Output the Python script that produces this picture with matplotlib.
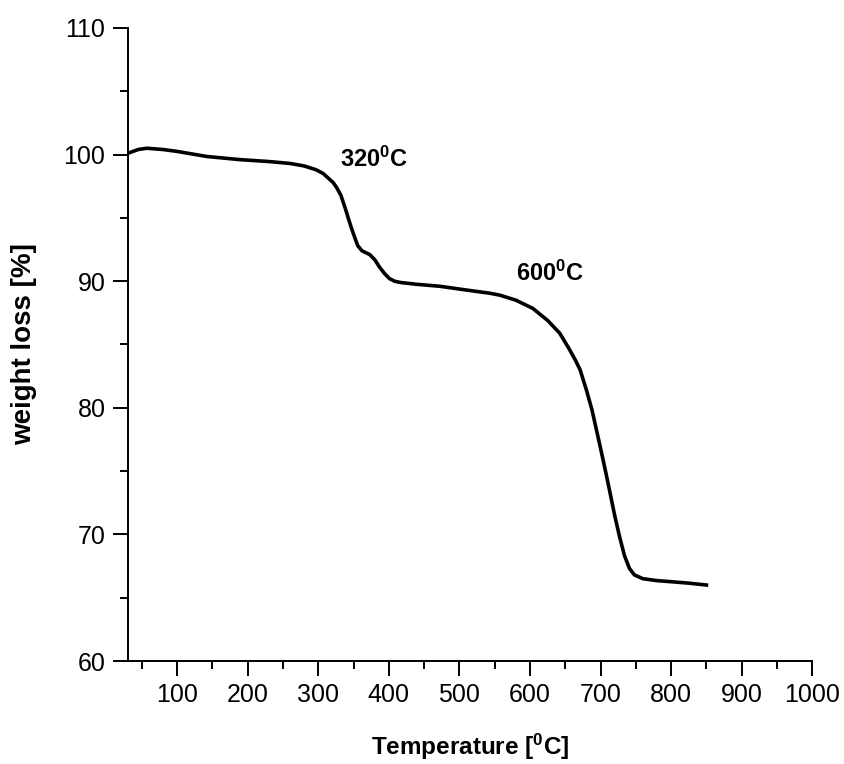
import matplotlib
matplotlib.use('Agg')
import matplotlib.pyplot as plt
from matplotlib.ticker import MultipleLocator

# TGA curve
temp = [30, 45, 57, 80, 100, 142, 189, 230, 260, 280, 297, 307, 315, 321, 326, 332, 338, 343, 347, 352,
        356, 362, 373, 380, 387, 394, 401, 408, 416, 440, 472, 510, 543, 557, 580, 604, 625, 642, 655,
        664, 671, 680, 688, 694, 700, 707, 713, 720, 727, 734, 741, 748, 760, 780, 803, 825, 850]
weight = [100.1, 100.4, 100.5, 100.4, 100.25, 99.85, 99.6, 99.45, 99.3, 99.1, 98.8, 98.5, 98.1, 97.8,
          97.4, 96.8, 95.8, 94.9, 94.2, 93.4, 92.8, 92.4, 92.1, 91.7, 91.1, 90.6, 90.2, 90.0, 89.9, 89.75,
          89.6, 89.3, 89.05, 88.9, 88.5, 87.85, 86.9, 85.9, 84.7, 83.8, 83.0, 81.4, 79.8, 78.3, 76.8, 75.0,
          73.4, 71.5, 69.8, 68.3, 67.3, 66.8, 66.5, 66.35, 66.25, 66.15, 66.0]

xlim = (30, 1000)
ylim = (60, 110)
notes = ['320', '600']
note_pos = [(379, 99.65), (628, 90.6)]

plt.rcParams['font.family'] = ['Liberation Sans', 'DejaVu Sans']
plt.rcParams['mathtext.fontset'] = 'custom'
plt.rcParams['mathtext.rm'] = 'Liberation Sans:bold'
plt.rcParams['mathtext.it'] = 'Liberation Sans:bold'
plt.rcParams['mathtext.bf'] = 'Liberation Sans:bold'

fig = plt.figure(figsize=(8.45, 7.64), dpi=100)
ax = fig.add_axes([0.1511, 0.1348, 0.8102, 0.8286])

ax.plot(temp, weight, color='black', lw=2.6, solid_joinstyle='round')
ax.set_xlim(*xlim)
ax.set_ylim(*ylim)

ax.spines['top'].set_visible(False)
ax.spines['right'].set_visible(False)
for s in ['left', 'bottom']:
    ax.spines[s].set_linewidth(1.4)

ax.xaxis.set_major_locator(MultipleLocator(100))
ax.xaxis.set_minor_locator(MultipleLocator(50))
ax.yaxis.set_major_locator(MultipleLocator(10))
ax.yaxis.set_minor_locator(MultipleLocator(5))
ax.tick_params(which='major', direction='out', length=11, width=1.4, labelsize=18, pad=5)
ax.tick_params(which='minor', direction='out', length=6, width=1.4)
ax.set_xticks([t for t in range(100, 1001, 100)])

ax.set_xlabel('Temperature [$^0$C]', fontsize=17.5, fontweight='bold', labelpad=18)
ax.set_ylabel('weight loss [%]', fontsize=20, fontweight='bold', labelpad=19)

for n, (x, y) in zip(notes, note_pos):
    ax.text(x, y, n + r'$^0$C', fontsize=17, fontweight='bold', ha='center', va='center')

fig.savefig('out.png', dpi=100)
